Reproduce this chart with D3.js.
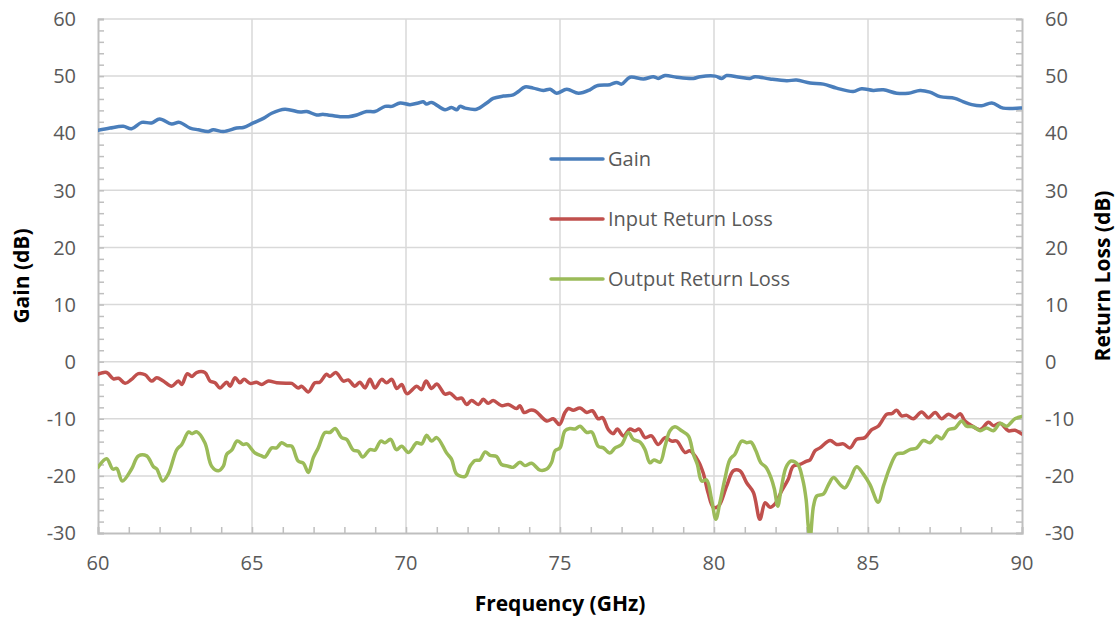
<!DOCTYPE html>
<html>
<head>
<meta charset="utf-8">
<script src="https://cdn.jsdelivr.net/npm/d3@7"></script>
<style>
  html, body { margin: 0; padding: 0; background: #fff; }
  svg { display: block; font-family: "Open Sans", "Noto Sans", sans-serif; }
</style>
</head>
<body>
<svg id="chart" width="1116" height="617"></svg>
<script>
// ---------- data ----------
const xTickValues = [60, 65, 70, 75, 80, 85, 90];
const yTickValues = [-30, -20, -10, 0, 10, 20, 30, 40, 50, 60];
const seriesNames = ["Gain", "Input Return Loss", "Output Return Loss"];

const gainFreq = [60.0,60.39,60.82,61.09,61.42,61.74,62.0,62.39,62.64,62.99,63.26,63.58,63.74,64.07,64.5,64.72,65.04,65.37,65.64,66.07,66.56,66.78,67.1,67.32,67.86,68.13,68.4,68.72,68.99,69.32,69.54,69.81,70.13,70.4,70.56,70.67,70.83,71.27,71.48,71.65,71.75,71.92,72.29,72.62,72.83,73.16,73.48,73.65,73.86,74.13,74.46,74.68,74.89,75.22,75.6,75.97,76.19,76.62,76.84,77.0,77.27,77.71,78.03,78.19,78.41,78.79,79.33,79.55,80.04,80.25,80.41,80.84,81.17,81.33,81.82,82.36,82.68,83.12,83.55,83.98,84.52,84.79,85.17,85.5,85.93,86.31,86.69,87.01,87.34,87.82,88.1,88.37,88.69,89.02,89.39,89.94,90.0];
const gainDb = [40.5,40.9,41.2,40.8,41.9,41.8,42.5,41.6,41.9,40.9,40.6,40.3,40.6,40.3,40.9,41.0,41.8,42.6,43.5,44.2,43.7,43.8,43.2,43.3,42.9,42.9,43.2,43.8,43.8,44.7,44.7,45.3,45.0,45.3,45.5,45.1,45.4,44.1,44.5,44.1,44.7,44.4,44.2,45.3,46.1,46.5,46.7,47.3,48.1,47.9,47.5,47.7,47.0,47.7,47.0,47.6,48.3,48.5,48.9,48.6,49.8,49.5,49.9,49.6,50.1,49.8,49.6,49.9,50.0,49.6,50.1,49.8,49.6,49.9,49.5,49.2,49.3,48.8,48.6,47.9,47.3,47.8,47.5,47.6,47.0,47.0,47.5,47.2,46.4,46.1,45.5,45.0,44.8,45.3,44.4,44.4,44.4];

const inFreq = [60.0,60.28,60.5,60.67,60.88,61.09,61.31,61.53,61.74,61.91,62.12,62.39,62.61,62.72,62.9,63.05,63.2,63.47,63.64,63.8,63.96,64.18,64.29,64.45,64.61,64.74,64.94,65.15,65.31,65.53,65.8,66.13,66.29,66.5,66.61,66.83,67.04,67.2,67.42,67.53,67.72,67.97,68.13,68.34,68.5,68.67,68.83,68.99,69.21,69.37,69.54,69.7,69.86,70.03,70.35,70.5,70.65,70.83,71.0,71.27,71.43,71.65,71.81,71.97,72.13,72.35,72.51,72.67,72.83,73.1,73.32,73.59,73.7,73.83,74.03,74.19,74.57,74.78,74.98,75.16,75.27,75.43,75.65,75.87,76.05,76.24,76.38,76.57,76.73,76.86,77.06,77.27,77.43,77.57,77.76,77.97,78.19,78.41,78.62,78.79,79.06,79.22,79.49,79.65,79.81,79.98,80.15,80.41,80.63,80.84,81.06,81.28,81.49,81.66,81.82,81.98,82.2,82.41,82.57,82.79,83.01,83.12,83.28,83.44,83.77,83.98,84.2,84.42,84.63,84.9,85.12,85.33,85.61,85.77,85.93,86.09,86.26,86.47,86.74,86.96,87.18,87.39,87.61,87.83,87.99,88.15,88.31,88.64,88.91,89.07,89.29,89.56,89.77,90.0];
const inDb = [-2.2,-1.9,-3.0,-2.9,-3.8,-3.1,-2.1,-2.3,-3.4,-2.8,-3.4,-4.3,-3.4,-4.0,-2.1,-2.6,-1.9,-1.9,-3.4,-3.7,-4.6,-3.6,-4.3,-2.8,-3.7,-3.1,-3.8,-3.6,-4.0,-3.4,-3.7,-3.8,-3.8,-4.6,-4.3,-5.3,-3.7,-3.6,-2.2,-2.6,-1.9,-3.4,-3.2,-4.3,-3.6,-4.6,-3.1,-4.6,-3.1,-3.7,-3.1,-4.7,-4.0,-5.6,-4.3,-4.9,-3.4,-4.7,-3.9,-5.7,-5.5,-6.5,-6.4,-7.5,-6.8,-7.5,-6.6,-7.3,-6.8,-7.7,-7.5,-8.2,-7.7,-8.9,-8.5,-8.6,-10.4,-10.0,-11.0,-8.9,-8.2,-8.5,-8.1,-8.9,-8.6,-10.0,-9.8,-11.9,-12.6,-11.8,-13.0,-11.8,-12.1,-11.8,-13.3,-13.0,-14.5,-13.3,-13.9,-13.9,-15.9,-15.6,-17.4,-19.5,-23.0,-25.5,-25.3,-21.8,-19.1,-19.1,-21.2,-22.9,-27.6,-24.7,-25.5,-24.9,-22.6,-20.6,-18.3,-18.0,-17.4,-17.2,-15.6,-15.1,-13.8,-14.5,-14.4,-15.1,-13.6,-13.3,-11.9,-11.3,-9.2,-9.1,-8.5,-9.5,-9.4,-10.0,-8.8,-9.8,-8.9,-10.0,-9.2,-9.8,-9.1,-10.4,-11.0,-11.9,-10.6,-11.2,-10.8,-12.1,-12.0,-12.7];

const outFreq = [60.0,60.28,60.48,60.61,60.79,61.09,61.31,61.58,61.8,61.91,62.1,62.28,62.56,62.72,62.94,63.05,63.21,63.47,63.69,63.91,64.07,64.18,64.34,64.52,64.72,64.83,65.1,65.31,65.42,65.64,65.8,65.96,66.13,66.29,66.5,66.67,66.83,66.99,67.15,67.37,67.53,67.7,67.91,68.07,68.29,68.45,68.59,68.83,68.99,69.18,69.32,69.5,69.69,69.86,70.08,70.35,70.51,70.67,70.83,71.0,71.32,71.48,71.65,71.92,72.08,72.24,72.4,72.57,72.73,72.94,73.1,73.32,73.48,73.7,73.86,74.08,74.35,74.57,74.73,74.84,75.0,75.16,75.32,75.49,75.65,75.87,76.03,76.24,76.41,76.62,76.79,77.0,77.22,77.38,77.6,77.76,77.92,78.05,78.25,78.41,78.57,78.73,78.95,79.17,79.33,79.46,79.6,79.76,79.92,80.06,80.19,80.35,80.52,80.68,80.9,81.06,81.2,81.36,81.52,81.69,81.85,81.96,82.07,82.18,82.34,82.5,82.72,82.88,82.99,83.06,83.12,83.23,83.34,83.55,83.72,83.88,84.09,84.25,84.42,84.63,84.85,85.06,85.33,85.5,85.71,85.93,86.15,86.36,86.58,86.8,87.01,87.23,87.39,87.61,87.83,88.04,88.2,88.42,88.64,88.85,89.07,89.29,89.5,89.77,90.0];
const outDb = [-18.5,-17.0,-18.8,-18.7,-20.9,-18.8,-16.5,-16.5,-18.4,-18.8,-20.9,-19.7,-15.4,-14.5,-12.3,-12.6,-12.3,-14.2,-18.3,-19.1,-18.3,-16.2,-15.5,-13.9,-14.5,-14.4,-16.0,-16.5,-16.7,-15.1,-15.1,-14.2,-14.7,-14.8,-17.4,-17.8,-19.4,-16.8,-15.1,-12.4,-12.4,-11.7,-13.3,-13.6,-15.5,-15.7,-16.7,-15.4,-15.5,-13.9,-14.2,-13.6,-15.4,-14.8,-15.9,-14.2,-14.4,-12.9,-13.9,-13.3,-16.0,-17.1,-19.7,-20.1,-18.3,-17.3,-17.2,-15.8,-16.4,-16.6,-18.0,-18.3,-18.5,-17.6,-18.2,-17.8,-19.0,-18.8,-17.6,-15.6,-15.1,-12.1,-11.7,-11.8,-11.3,-12.4,-12.3,-14.8,-15.1,-16.0,-15.1,-14.5,-12.4,-13.6,-14.1,-15.4,-17.7,-17.2,-17.6,-14.8,-12.1,-11.4,-12.1,-13.0,-16.2,-18.0,-20.9,-20.7,-24.1,-27.6,-24.7,-20.6,-17.1,-16.2,-13.9,-14.2,-14.1,-15.6,-17.7,-18.5,-20.3,-22.3,-25.3,-22.3,-18.5,-17.4,-18.0,-20.6,-24.1,-28.8,-31.0,-25.3,-23.5,-23.2,-21.5,-20.3,-21.5,-22.1,-20.6,-18.4,-19.7,-21.5,-24.6,-21.8,-18.5,-16.2,-16.0,-15.4,-15.1,-13.8,-14.2,-13.0,-13.5,-11.9,-11.6,-10.4,-11.3,-11.4,-12.1,-11.6,-12.1,-10.8,-11.3,-10.0,-9.6];

// ---------- layout ----------
const W = 1116, H = 617;
const plot = { left: 98, right: 1022, top: 19, bottom: 533 };
const colors = ["#4a7ebb", "#c0504d", "#9bbb59"];
const textColor = "#595959";
const gridColor = "#d9d9d9";
const axisColor = "#bfbfbf";

const svg = d3.select("#chart");
const x = d3.scaleLinear().domain([60, 90]).range([plot.left, plot.right]);
const yL = d3.scaleLinear().domain([-30, 60]).range([plot.bottom, plot.top]);
const yR = d3.scaleLinear().domain([-30, 60]).range([plot.bottom, plot.top]);

// gridlines
const grid = svg.append("g");
grid.selectAll("line.h").data(yTickValues.filter(v => v > -30)).join("line")
  .attr("x1", plot.left).attr("x2", plot.right)
  .attr("y1", d => yL(d)).attr("y2", d => yL(d))
  .attr("stroke", gridColor).attr("stroke-width", 1.5);
grid.selectAll("line.v").data(xTickValues.filter(v => v > 60 && v < 90)).join("line")
  .attr("y1", plot.top).attr("y2", plot.bottom)
  .attr("x1", d => x(d)).attr("x2", d => x(d))
  .attr("stroke", gridColor).attr("stroke-width", 1.5);

// axes with minor ticks
const minorY = d3.range(-30, 61, 2);
const minorX = d3.range(60, 91, 1);

const axL = svg.append("g").attr("transform", `translate(${plot.left},0)`)
  .call(d3.axisRight(yL).tickValues(minorY).tickSize(6).tickFormat(""));
const axR = svg.append("g").attr("transform", `translate(${plot.right},0)`)
  .call(d3.axisLeft(yR).tickValues(minorY).tickSize(6).tickFormat(""));
const axB = svg.append("g").attr("transform", `translate(0,${plot.bottom})`)
  .call(d3.axisTop(x).tickValues(minorX).tickSize(6).tickFormat(""));
[axL, axR, axB].forEach(a => {
  a.select(".domain").attr("stroke", axisColor).attr("stroke-width", 2);
  a.selectAll(".tick line").attr("stroke", axisColor).attr("stroke-width", 1.5);
});

// tick labels
const fs = 20;
svg.append("g").selectAll("text").data(yTickValues).join("text")
  .attr("x", 76).attr("y", d => yL(d)).attr("dy", "0.36em")
  .attr("text-anchor", "end").attr("font-size", fs).attr("fill", textColor)
  .text(d => d);
svg.append("g").selectAll("text").data(yTickValues).join("text")
  .attr("x", 1045).attr("y", d => yR(d)).attr("dy", "0.36em")
  .attr("text-anchor", "start").attr("font-size", fs).attr("fill", textColor)
  .text(d => d);
svg.append("g").selectAll("text").data(xTickValues).join("text")
  .attr("x", d => x(d)).attr("y", 570)
  .attr("text-anchor", "middle").attr("font-size", fs).attr("fill", textColor)
  .text(d => d);

// axis titles
svg.append("text").attr("x", 560).attr("y", 611).attr("text-anchor", "middle")
  .attr("font-size", 21).attr("font-weight", "bold").attr("fill", "#000")
  .text("Frequency (GHz)");
svg.append("text").attr("transform", "translate(29,276) rotate(-90)").attr("text-anchor", "middle")
  .attr("font-size", 21).attr("font-weight", "bold").attr("fill", "#000")
  .text("Gain (dB)");
svg.append("text").attr("transform", "translate(1110,276) rotate(-90)").attr("text-anchor", "middle")
  .attr("font-size", 21).attr("font-weight", "bold").attr("fill", "#000")
  .text("Return Loss (dB)");

// clip
svg.append("defs").append("clipPath").attr("id", "clip")
  .append("rect").attr("x", plot.left).attr("y", plot.top - 5)
  .attr("width", plot.right - plot.left).attr("height", plot.bottom - plot.top + 5);

// lines
const series = [
  { name: seriesNames[0], f: gainFreq, v: gainDb, y: yL },
  { name: seriesNames[1], f: inFreq, v: inDb, y: yR },
  { name: seriesNames[2], f: outFreq, v: outDb, y: yR }
];
const lg = svg.append("g").attr("clip-path", "url(#clip)");
series.forEach((s, i) => {
  const pts = s.f.map((f, j) => [f, s.v[j]]);
  const line = d3.line().x(d => x(d[0])).y(d => s.y(d[1])).curve(d3.curveCatmullRom.alpha(0.5));
  lg.append("path").attr("d", line(pts)).attr("fill", "none")
    .attr("stroke", colors[i]).attr("stroke-width", 3.5)
    .attr("stroke-linejoin", "round").attr("stroke-linecap", "round");
});

// legend
const legY = [159, 219, 279];
const leg = svg.append("g");
seriesNames.forEach((n, i) => {
  leg.append("line").attr("x1", 551).attr("x2", 603).attr("y1", legY[i]).attr("y2", legY[i])
    .attr("stroke", colors[i]).attr("stroke-width", 3.5).attr("stroke-linecap", "round");
  leg.append("text").attr("x", 608).attr("y", legY[i]).attr("dy", "0.36em")
    .attr("font-size", fs).attr("fill", textColor).text(n);
});
</script>
</body>
</html>
